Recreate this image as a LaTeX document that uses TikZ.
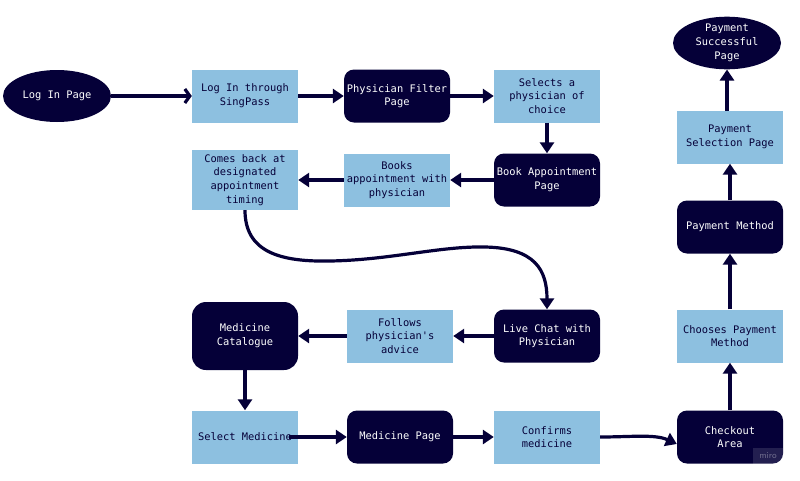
\documentclass[tikz,border=0pt]{standalone}
\usepackage{fontspec}
\setmonofont{DejaVu Sans Mono}
\usetikzlibrary{shapes.geometric,arrows.meta}
\definecolor{navy}{HTML}{050038}
\definecolor{lblue}{HTML}{8DC0E0}
\tikzset{
  base/.style={font=\ttfamily\fontsize{10.4}{13.7}\selectfont, align=center, inner sep=0pt, minimum width=106pt, minimum height=53pt},
  lbox/.style={base, fill=lblue, text=navy},
  dbox/.style={base, fill=navy, text=white, rounded corners=10pt},
  oval/.style={base, ellipse, fill=navy, text=white},
  conn/.style={draw=navy, line width=3.2pt, -{Triangle[length=11pt,width=14pt]}},
  openconn/.style={draw=navy, line width=3.2pt, -{Straight Barb[length=5pt,width=14pt]}},
}
\begin{document}
\begin{tikzpicture}[x=1pt,y=-1pt]
\useasboundingbox (0,0) rectangle (800,480);
\fill[white] (0,0) rectangle (800,480);

\node[oval, minimum width=108pt, minimum height=52pt] (login) at (57,96) {Log In Page};
\node[lbox] (sing) at (245,96) {Log In through\\SingPass};
\node[dbox] (filter) at (397,96) {Physician Filter\\Page};
\node[lbox] (select) at (547,96) {Selects a\\physician of\\choice};
\node[dbox] (book) at (547,180) {Book Appointment\\Page};
\node[lbox] (books) at (397,180) {Books\\appointment with\\physician};
\node[lbox, minimum height=60pt] (comes) at (245,180) {Comes back at\\designated\\appointment\\timing};

\node[dbox] (chat) at (547,336) {Live Chat with\\Physician};
\node[lbox] (follow) at (400,336) {Follows\\physician's\\advice};
\node[dbox, minimum height=68pt, rounded corners=14pt] (cat) at (245,336) {Medicine\\Catalogue};

\node[lbox] (selmed) at (245,437) {Select Medicine};
\node[dbox] (medpage) at (400,437) {Medicine Page};
\node[lbox] (confirm) at (547,437) {Confirms\\medicine};
\node[dbox] (checkout) at (730,437) {Checkout\\Area};

\node[lbox] (choose) at (730,336) {Chooses Payment\\Method};
\node[dbox] (method) at (730,227) {Payment Method};
\node[lbox] (paysel) at (730,137) {Payment\\Selection Page};
\node[oval, minimum width=108pt, minimum height=52pt] (success) at (727,43) {Payment\\Successful\\Page};

\node[anchor=south east, inner sep=1pt, fill=white, fill opacity=0.12, text opacity=0.35, text=white, font=\sffamily\fontsize{9}{9}\selectfont, minimum width=30pt, minimum height=16pt] (miro) at (checkout.south east) {miro};

\coordinate (psTop) at (727,111);
\coordinate (w1) at (330,261);
\coordinate (w2) at (485,247);

\draw[openconn] (login) -- (sing);
\draw[conn] (sing) -- (filter);
\draw[conn] (filter) -- (select);
\draw[conn] (select) -- (book);
\draw[conn] (book) -- (books);
\draw[conn] (books) -- (comes);
\draw[conn] (comes.south) .. controls (245,252) and (280,262) .. (w1)
   .. controls (390,260) and (440,246) .. (w2)
   .. controls (535,248) and (547,270) .. (chat.north);
\draw[conn] (chat) -- (follow);
\draw[conn] (follow) -- (cat);
\draw[conn] (cat) -- (selmed);
\draw[conn] ([xshift=-9pt]selmed.east) -- (medpage);
\draw[conn] (medpage) -- (confirm);
\draw[conn] (confirm.east) .. controls (630,437) and (655,434) .. ([yshift=-7pt]checkout.west);
\draw[conn] (checkout) -- (choose);
\draw[conn] (choose) -- (method);
\draw[conn] (method) -- (paysel);
\draw[conn] (psTop) -- (success);
\end{tikzpicture}
\end{document}
